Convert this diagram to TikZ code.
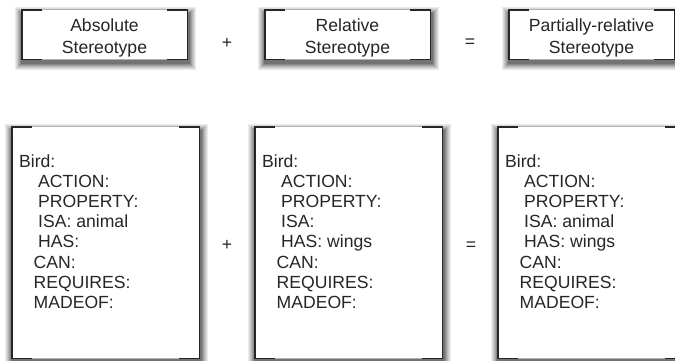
\documentclass[tikz,border=0pt]{standalone}
\usepackage{fontspec}
\setmainfont{Liberation Sans}
\tikzset{
  frame/.style={inner sep=0pt},
  topbox/.style={frame, minimum width=165pt, minimum height=49pt},
  bigbox/.style={frame, minimum width=187pt, minimum height=231pt},
  thinframe/.style={draw=black!30, line width=0.7pt, fill=white},
  brackline/.style={draw=black!85, line width=1.4pt, line join=miter},
  lbl/.style={font=\fontsize{17.6}{20}\selectfont, text=black!85, inner sep=0pt},
  lline/.style={lbl, anchor=base west},
  cline/.style={lbl, anchor=base},
  op/.style={lbl, anchor=center}
}
\newcommand\shadowbox[1]{%
  \fill[black!8] ([xshift=-7pt, yshift=3pt]#1.north west) rectangle ([xshift=9pt, yshift=-11pt]#1.south east);
  \fill[black!14] ([xshift=-6pt, yshift=2pt]#1.north west) rectangle ([xshift=8pt, yshift=-10pt]#1.south east);
  \fill[black!21] ([xshift=-5pt, yshift=1pt]#1.north west) rectangle ([xshift=7pt, yshift=-9pt]#1.south east);
  \fill[black!29] ([xshift=-4pt, yshift=0pt]#1.north west) rectangle ([xshift=6pt, yshift=-8pt]#1.south east);
  \fill[black!37] ([xshift=-3pt, yshift=-1pt]#1.north west) rectangle ([xshift=5pt, yshift=-7pt]#1.south east);
  \fill[black!46] ([xshift=-2pt, yshift=-2pt]#1.north west) rectangle ([xshift=4pt, yshift=-6pt]#1.south east);
  \fill[black!55] ([xshift=-1pt, yshift=-3pt]#1.north west) rectangle ([xshift=3pt, yshift=-5pt]#1.south east);
  \path[thinframe] (#1.north west) rectangle (#1.south east);
  \draw[brackline] ([xshift=20pt]#1.north west) -- (#1.north west) -- (#1.south west) -- ([xshift=20pt]#1.south west);
  \draw[brackline] ([xshift=-20pt]#1.north east) -- (#1.north east) -- (#1.south east) -- ([xshift=-20pt]#1.south east);
}
\newcommand\birdlines[4]{%
  \node[lline] (#1l1) at ({#2+7},167) {Bird:};
  \node[lline] (#1l2) at ({#2+26},187.2) {ACTION:};
  \node[lline] (#1l3) at ({#2+26},207.4) {PROPERTY:};
  \node[lline] (#1l4) at ({#2+26},227.6) {ISA:#3};
  \node[lline] (#1l5) at ({#2+26},247.8) {HAS:#4};
  \node[lline] (#1l6) at ({#2+21.5},268) {CAN:};
  \node[lline] (#1l7) at ({#2+21.5},288.2) {REQUIRES:};
  \node[lline] (#1l8) at ({#2+21.5},308.4) {MADEOF:};
}
\begin{document}
\begin{tikzpicture}[x=1pt,y=-1pt]
  \useasboundingbox (0,0) rectangle (675,360);
  % top row
  \node[topbox] (ta) at (104.5,34.5) {};
  \node[topbox] (tb) at (347.5,34.5) {};
  \node[topbox] (tc) at (591.5,34.5) {};
  \shadowbox{ta}\shadowbox{tb}\shadowbox{tc}
  \node[cline] (ta1) at (104.5,31.5) {Absolute};
  \node[cline] (ta2) at (104.5,53.5) {Stereotype};
  \node[cline] (tb1) at (347.5,31.5) {Relative};
  \node[cline] (tb2) at (347.5,53.5) {Stereotype};
  \node[cline] (tc1) at (591.5,31.5) {Partially-relative};
  \node[cline] (tc2) at (591.5,53.5) {Stereotype};
  \node[op] (tplus) at (227,43) {+};
  \node[op] (teq) at (470,43) {=};
  % bottom row
  \node[bigbox] (ba) at (105.5,242.5) {};
  \node[bigbox] (bb) at (348.5,242.5) {};
  \node[bigbox] (bc) at (591.5,242.5) {};
  \shadowbox{ba}\shadowbox{bb}\shadowbox{bc}
  \birdlines{a}{12}{ animal}{}
  \birdlines{b}{255}{}{ wings}
  \birdlines{c}{498}{ animal}{ wings}
  \node[op] (bplus) at (227,245) {+};
  \node[op] (beq) at (471,246) {=};
\end{tikzpicture}
\end{document}
